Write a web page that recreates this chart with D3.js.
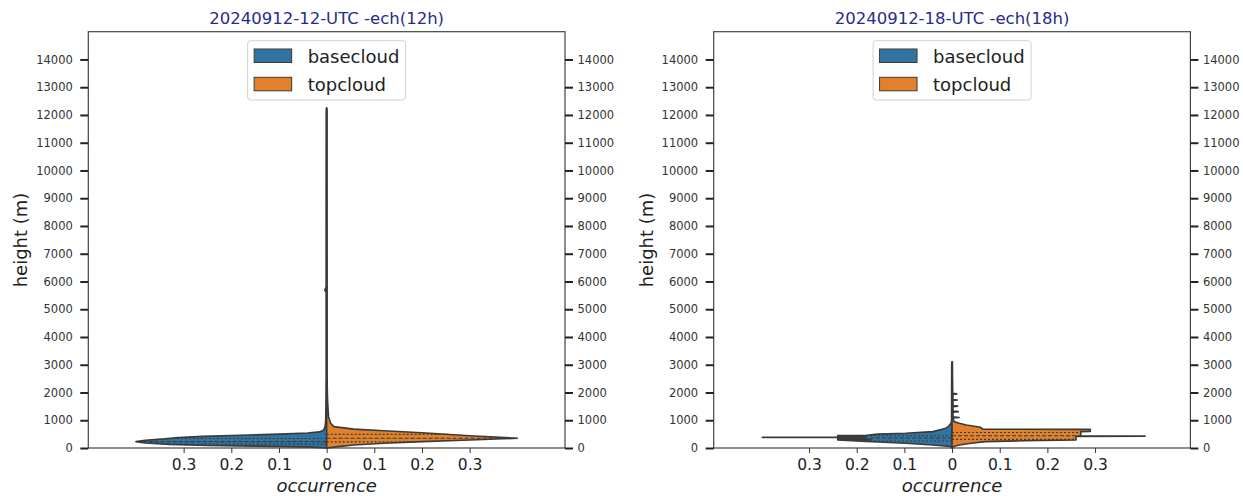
<!DOCTYPE html>
<html>
<head>
<meta charset="utf-8">
<script src="https://cdn.jsdelivr.net/npm/d3@7"></script>
<style>
  html, body { margin: 0; padding: 0; background: #fff; }
  svg { display: block; font-family: "DejaVu Sans", sans-serif; }
</style>
</head>
<body>
<svg id="chart" width="1243" height="496"></svg>
<script>
// ---------------- data ----------------
const panelTitles = ["20240912-12-UTC -ech(12h)", "20240912-18-UTC -ech(18h)"];
const seriesNames = ["basecloud", "topcloud"];
const seriesColors = ["#3274a1", "#e1812c"];

const yTicks = [0, 1000, 2000, 3000, 4000, 5000, 6000, 7000, 8000, 9000, 10000, 11000, 12000, 13000, 14000];
const xTickValues = [-0.3, -0.2, -0.1, 0, 0.1, 0.2, 0.3];
const xTickLabels = ["0.3", "0.2", "0.1", "0", "0.1", "0.2", "0.3"];

// Panel 1 (12h) - basecloud density profile (height m, occurrence)
const p1BaseHeights = [0, 30, 60, 90, 130, 180, 230, 280, 330, 380, 420, 460, 500, 540, 580, 650, 800, 1000, 1500, 2500, 5600, 5700, 5800, 9000, 12200, 12250];
const p1BaseDensity = [0, 0.03, 0.12, 0.25, 0.33, 0.38, 0.40, 0.38, 0.34, 0.31, 0.26, 0.18, 0.10, 0.04, 0.015, 0.006, 0.003, 0.002, 0.0015, 0.001, 0.001, 0.004, 0.001, 0.001, 0.0008, 0];
const p1BaseQuartiles = [140, 230, 340];
// Panel 1 (12h) - topcloud
const p1TopHeights = [0, 40, 110, 170, 230, 290, 350, 440, 550, 620, 680, 770, 900, 1130, 1400, 1700, 2000, 2500, 12200, 12250];
const p1TopDensity = [0, 0.02, 0.057, 0.12, 0.2, 0.3, 0.40, 0.3, 0.2, 0.12, 0.057, 0.015, 0.008, 0.004, 0.003, 0.002, 0.0015, 0.001, 0.0008, 0];
const p1TopQuartiles = [220, 350, 490];

// Panel 2 (18h) - basecloud
const p2BaseHeights = [0, 60, 110, 170, 215, 240, 290, 305, 320, 335, 350, 365, 380, 383, 388, 391, 405, 418, 430, 445, 460, 500, 530, 590, 700, 770, 900, 1000, 3000, 3100];
const p2BaseDensity = [0, 0.005, 0.04, 0.097, 0.155, 0.18, 0.24, 0.17, 0.24, 0.18, 0.24, 0.19, 0.24, 0.398, 0.398, 0.24, 0.18, 0.24, 0.2, 0.24, 0.18, 0.155, 0.097, 0.04, 0.015, 0.008, 0.002, 0.001, 0.0008, 0];
const p2BaseQuartiles = [250, 360, 440];
// Panel 2 (18h) - topcloud
const p2TopHeights = [0, 60, 110, 170, 230, 260, 290, 420, 425, 432, 437, 590, 595, 670, 675, 745, 790, 830, 890, 950, 1080, 1100, 1120, 1290, 1310, 1330, 1490, 1510, 1530, 1710, 1730, 1750, 1930, 1950, 1970, 2500, 3100, 3110];
const p2TopDensity = [0, 0.005, 0.015, 0.04, 0.07, 0.15, 0.26, 0.26, 0.405, 0.405, 0.27, 0.27, 0.29, 0.29, 0.065, 0.06, 0.043, 0.03, 0.015, 0.004, 0.002, 0.015, 0.002, 0.002, 0.013, 0.002, 0.002, 0.012, 0.002, 0.002, 0.011, 0.002, 0.002, 0.01, 0.0015, 0.001, 0.0008, 0];
const p2TopQuartiles = [310, 440, 560];

// ---------------- layout ----------------
const plotTop = 31.7, plotBottom = 448, plotWidth = 476.7;
const panelLefts = [88.3, 713.7];
const outline = "#3a3a3a";

const svg = d3.select("#chart");

const panels = [
  { title: panelTitles[0],
    series: [
      { h: p1BaseHeights, d: p1BaseDensity, q: p1BaseQuartiles, side: -1 },
      { h: p1TopHeights, d: p1TopDensity, q: p1TopQuartiles, side: 1 } ] },
  { title: panelTitles[1],
    series: [
      { h: p2BaseHeights, d: p2BaseDensity, q: p2BaseQuartiles, side: -1 },
      { h: p2TopHeights, d: p2TopDensity, q: p2TopQuartiles, side: 1 } ] }
];

const y = d3.scaleLinear().domain([0, 15000]).range([plotBottom, plotTop]);

function interp(hs, ds, v) {
  for (let i = 0; i < hs.length - 1; i++) {
    if (v >= hs[i] && v <= hs[i + 1]) {
      const t = (v - hs[i]) / (hs[i + 1] - hs[i] || 1);
      return ds[i] + t * (ds[i + 1] - ds[i]);
    }
  }
  return 0;
}

panels.forEach((panel, pi) => {
  const left = panelLefts[pi];
  const x = d3.scaleLinear().domain([-0.5, 0.5]).range([left, left + plotWidth]);
  const cx = x(0);
  const g = svg.append("g");

  // violins
  panel.series.forEach((s, si) => {
    const pts = s.h.map((h, i) => ({ h: h, d: s.d[i] }));
    const area = d3.area()
      .y(p => y(p.h))
      .x0(() => x(0))
      .x1(p => x(s.side * p.d))
      .curve(d3.curveLinear);
    g.append("path")
      .datum(pts)
      .attr("d", area)
      .attr("fill", seriesColors[si])
      .attr("stroke", outline)
      .attr("stroke-width", 1.6)
      .attr("stroke-linejoin", "round");
    // quartile lines
    s.q.forEach((qh, qi) => {
      const w = interp(s.h, s.d, qh);
      g.append("line")
        .attr("x1", x(0)).attr("x2", x(s.side * w))
        .attr("y1", y(qh)).attr("y2", y(qh))
        .attr("stroke", outline)
        .attr("stroke-width", 1.1)
        .attr("stroke-dasharray", qi === 1 ? "4,2" : "2,2");
    });
  });

  // frame
  g.append("rect")
    .attr("x", left).attr("y", plotTop)
    .attr("width", plotWidth).attr("height", plotBottom - plotTop)
    .attr("fill", "none").attr("stroke", "#444").attr("stroke-width", 1.2);

  // left axis
  const axL = g.append("g").attr("transform", `translate(${left},0)`)
    .call(d3.axisLeft(y).tickValues(yTicks).tickFormat(d3.format("d")).tickSize(8).tickPadding(7.5));
  // right axis
  const axR = g.append("g").attr("transform", `translate(${left + plotWidth},0)`)
    .call(d3.axisRight(y).tickValues(yTicks).tickFormat(d3.format("d")).tickSize(8).tickPadding(4.5));
  [axL, axR].forEach(ax => {
    ax.select(".domain").remove();
    ax.selectAll(".tick line").attr("stroke", "#222").attr("stroke-width", 2);
    ax.selectAll(".tick text").attr("fill", "#333").style("font-size", "11.5px").style("font-family", "DejaVu Sans, sans-serif");
  });

  // bottom axis
  const axB = g.append("g").attr("transform", `translate(0,${plotBottom})`)
    .call(d3.axisBottom(x).tickValues(xTickValues).tickFormat((d, i) => xTickLabels[i]).tickSize(5).tickPadding(6));
  axB.select(".domain").remove();
  axB.selectAll(".tick line").attr("stroke", "#333").attr("stroke-width", 1);
  axB.selectAll(".tick text").attr("fill", "#222").style("font-size", "15.5px").style("font-family", "DejaVu Sans, sans-serif");

  // title
  g.append("text")
    .attr("x", cx).attr("y", 24)
    .attr("text-anchor", "middle")
    .attr("fill", "#2a2a8c")
    .style("font-size", "16.5px")
    .text(panel.title);

  // x label
  g.append("text")
    .attr("x", cx).attr("y", 492)
    .attr("text-anchor", "middle")
    .attr("fill", "#222")
    .style("font-size", "18px")
    .style("font-style", "italic")
    .text("occurrence");

  // y label
  g.append("text")
    .attr("transform", `translate(${left - 61},240) rotate(-90)`)
    .attr("text-anchor", "middle")
    .attr("fill", "#222")
    .style("font-size", "18px")
    .text("height (m)");

  // legend
  const lgW = 158, lgH = 59.3;
  const lg = g.append("g").attr("transform", `translate(${cx - lgW / 2},40.7)`);
  lg.append("rect")
    .attr("width", lgW).attr("height", lgH).attr("rx", 3)
    .attr("fill", "#fff").attr("fill-opacity", 0.8)
    .attr("stroke", "#d0d0d0").attr("stroke-width", 1);
  seriesNames.forEach((name, i) => {
    lg.append("rect")
      .attr("x", 6.5).attr("y", 8.3 + i * 28.3)
      .attr("width", 37.5).attr("height", 13.5)
      .attr("fill", seriesColors[i])
      .attr("stroke", outline).attr("stroke-width", 1);
    lg.append("text")
      .attr("x", 60).attr("y", 22 + i * 28.3)
      .attr("fill", "#222")
      .style("font-size", "18px")
      .text(name);
  });
});
</script>
</body>
</html>
